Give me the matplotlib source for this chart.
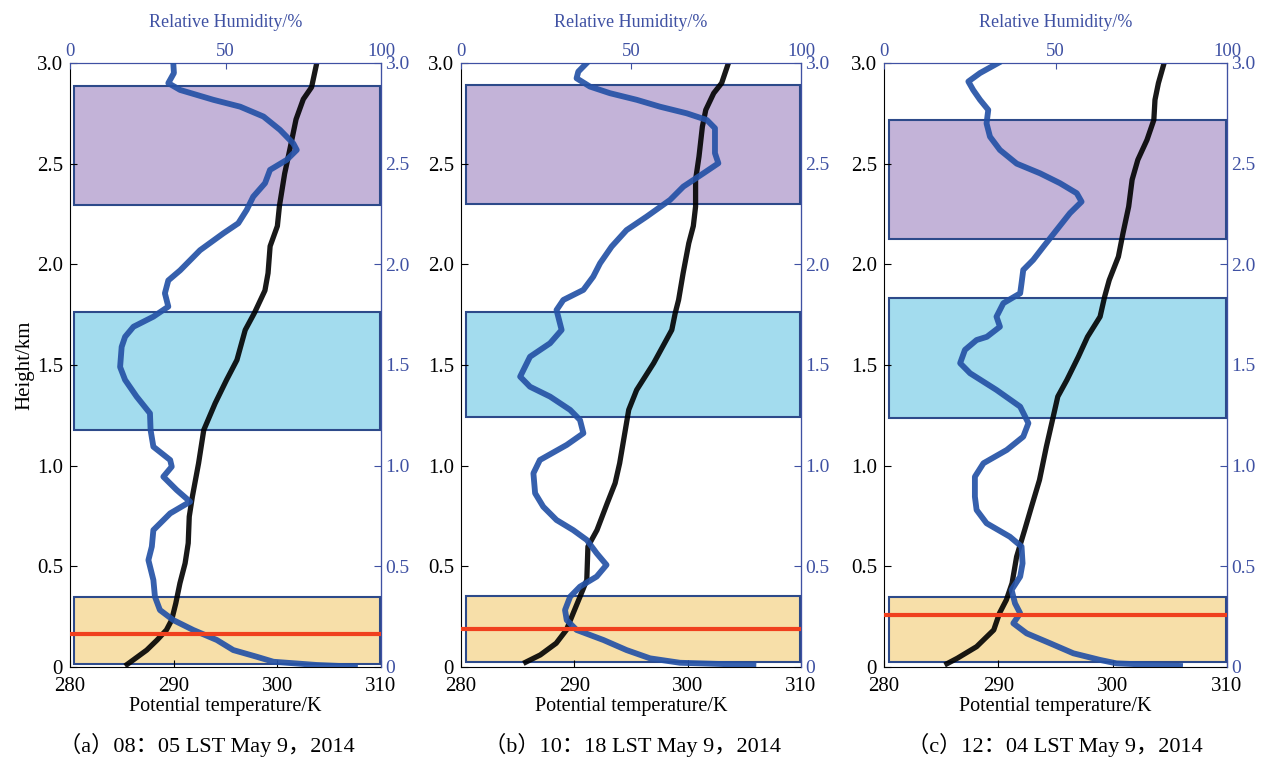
import matplotlib
matplotlib.use("Agg")
import matplotlib.pyplot as plt
from matplotlib.patches import Rectangle
from matplotlib.ticker import FuncFormatter

plt.rcParams['font.family'] = ['Liberation Serif', 'Noto Sans CJK SC']

BLUE_AX = '#3f51a3'
BLUE_LINE = '#2552a6'
BOX_EDGE = '#2d4a8a'

# panel (a) 08:05
h_theta_a = [3.0, 2.88, 2.82, 2.72, 2.57, 2.45, 2.29, 2.19, 2.09, 1.956, 1.87, 1.76, 1.674, 1.525,
             1.426, 1.31, 1.177, 1.012, 0.846, 0.747, 0.615, 0.515, 0.416, 0.316, 0.233, 0.184,
             0.134, 0.084, 0.035, 0.005]
theta_a = [303.8, 303.3, 302.5, 301.8, 301.2, 300.7, 300.2, 300.0, 299.3, 299.1, 298.8, 297.8, 296.9,
           296.1, 295.1, 294.0, 292.9, 292.4, 291.8, 291.5, 291.4, 291.1, 290.6, 290.2, 289.8, 289.3,
           288.4, 287.4, 286.1, 285.3]
h_rh_a = [3.0, 2.95, 2.90, 2.866, 2.817, 2.783, 2.734, 2.668, 2.60, 2.568, 2.519, 2.469, 2.403, 2.336,
          2.27, 2.204, 2.154, 2.07, 1.97, 1.92, 1.856, 1.79, 1.74, 1.69, 1.64, 1.59, 1.49, 1.426,
          1.343, 1.26, 1.177, 1.094, 1.028, 0.995, 0.945, 0.879, 0.821, 0.763, 0.68, 0.598, 0.531,
          0.432, 0.349, 0.283, 0.233, 0.184, 0.134, 0.084, 0.051, 0.026, 0.01, 0.002]
rh_a = [33.2, 33.4, 31.6, 35.4, 46.1, 54.7, 62.2, 67.5, 71.8, 72.9, 69.7, 64.3, 62.7, 58.9, 56.8, 54.1,
        49.3, 41.8, 35.4, 31.6, 30.5, 31.6, 26.8, 20.4, 17.7, 16.6, 16.1, 17.7, 21.4, 25.7, 25.9, 26.8,
        32.2, 32.7, 30.0, 34.3, 38.6, 32.2, 26.8, 26.3, 25.2, 26.8, 27.3, 28.9, 33.2, 39.6, 47.2, 52.5,
        60.0, 65.4, 79.3, 91.6]

# panel (b) 10:18
h_theta_b = [3.0, 2.90, 2.85, 2.767, 2.684, 2.535, 2.42, 2.287, 2.19, 2.105, 1.956, 1.823, 1.757,
             1.674, 1.509, 1.376, 1.277, 1.177, 1.012, 0.913, 0.813, 0.68, 0.598, 0.432, 0.349, 0.267,
             0.184, 0.118, 0.06, 0.018]
theta_b = [303.6, 303.0, 302.3, 301.6, 301.3, 301.0, 300.7, 300.7, 300.5, 300.1, 299.6, 299.2, 298.9,
           298.6, 297.0, 295.5, 294.8, 294.5, 294.0, 293.6, 292.9, 292.0, 291.2, 291.1, 290.5, 289.9,
           289.3, 288.4, 287.0, 285.5]
h_rh_b = [3.0, 2.957, 2.924, 2.883, 2.85, 2.817, 2.783, 2.75, 2.717, 2.676, 2.618, 2.552, 2.502, 2.452,
          2.386, 2.32, 2.237, 2.17, 2.088, 2.005, 1.939, 1.873, 1.823, 1.773, 1.707, 1.674, 1.608,
          1.541, 1.442, 1.392, 1.343, 1.277, 1.227, 1.161, 1.103, 1.028, 0.962, 0.863, 0.796, 0.73,
          0.68, 0.631, 0.565, 0.507, 0.449, 0.399, 0.349, 0.283, 0.233, 0.184, 0.134, 0.084, 0.043,
          0.021, 0.01]
rh_b = [37.0, 34.5, 34.0, 37.9, 43.8, 51.7, 58.5, 66.4, 72.3, 74.7, 74.7, 74.7, 75.7, 71.3, 65.4, 61.5,
        54.6, 48.7, 44.3, 40.9, 38.9, 36.0, 30.1, 28.1, 29.1, 29.6, 26.2, 20.3, 17.4, 20.3, 26.2, 32.1,
        35.0, 36.0, 31.1, 23.2, 21.3, 21.8, 24.2, 28.1, 33.0, 37.0, 39.9, 42.8, 39.9, 35.0, 32.1, 30.6,
        31.1, 34.0, 41.9, 48.7, 55.6, 64.4, 86.0]

# panel (c) 12:04
h_theta_c = [3.0, 2.90, 2.817, 2.717, 2.618, 2.519, 2.42, 2.287, 2.154, 2.038, 1.922, 1.84, 1.74, 1.64,
             1.541, 1.426, 1.343, 1.243, 1.094, 0.929, 0.796, 0.68, 0.548, 0.416, 0.333, 0.267, 0.184,
             0.101, 0.043, 0.01]
theta_c = [304.5, 304.0, 303.7, 303.6, 303.0, 302.2, 301.7, 301.4, 300.9, 300.5, 299.7, 299.3, 298.9,
           297.8, 297.0, 296.0, 295.2, 294.8, 294.2, 293.6, 292.9, 292.3, 291.6, 291.2, 290.7, 290.1,
           289.6, 288.1, 286.4, 285.3]
h_rh_c = [3.0, 2.95, 2.908, 2.866, 2.817, 2.767, 2.70, 2.634, 2.568, 2.50, 2.452, 2.403, 2.353, 2.311,
          2.254, 2.17, 2.088, 2.022, 1.972, 1.906, 1.856, 1.807, 1.74, 1.69, 1.64, 1.624, 1.575,
          1.509, 1.459, 1.376, 1.293, 1.211, 1.144, 1.078, 1.012, 0.945, 0.846, 0.78, 0.714, 0.647,
          0.598, 0.515, 0.449, 0.383, 0.316, 0.267, 0.217, 0.167, 0.118, 0.068, 0.035, 0.018, 0.005]
rh_c = [33.3, 28.0, 24.6, 26.0, 28.0, 30.4, 29.9, 30.9, 33.8, 38.7, 45.5, 51.3, 56.2, 57.6, 54.2, 50.3,
        46.5, 43.5, 40.6, 40.1, 39.7, 34.8, 32.8, 33.8, 30.0, 27.0, 23.6, 22.2, 25.1, 32.8, 39.7, 42.1,
        40.6, 35.8, 29.0, 26.5, 26.5, 27.0, 29.9, 36.7, 40.1, 40.4, 39.7, 37.2, 38.2, 39.7, 37.7, 41.6,
        48.4, 55.2, 63.0, 67.8, 86.3]

# layers: (bottom, top) in km -> purple, blue, orange; red line height
layers_a = [(2.295, 2.886), (1.177, 1.762), (0.013, 0.346)]
layers_b = [(2.30, 2.891), (1.240, 1.765), (0.026, 0.353)]
layers_c = [(2.126, 2.717), (1.239, 1.835), (0.023, 0.349)]
red_h = [0.164, 0.189, 0.258]
layer_colors = ['#c3b3d8', '#a3dcee', '#f7dfa9']

captions = ['（a）08：05 LST May 9，2014', '（b）10：18 LST May 9，2014', '（c）12：04 LST May 9，2014']

panels = [
    (h_theta_a, theta_a, h_rh_a, rh_a, layers_a),
    (h_theta_b, theta_b, h_rh_b, rh_b, layers_b),
    (h_theta_c, theta_c, h_rh_c, rh_c, layers_c),
]
rects = [(0.0551, 0.1189, 0.2447, 0.7979),
         (0.3627, 0.1189, 0.2675, 0.7979),
         (0.6955, 0.1189, 0.2699, 0.7979)]
cap_x = [0.163, 0.498, 0.830]

fmt = FuncFormatter(lambda v, p: '0' if v == 0 else f'{v:.1f}')

fig = plt.figure(figsize=(12.71, 7.57), dpi=100)

for i, (ht, th, hr, rh, layers) in enumerate(panels):
    ax = fig.add_axes(rects[i])
    ax.set_xlim(280, 310)
    ax.set_ylim(0, 3)
    for (lo, hi), c in zip(layers, layer_colors):
        ax.add_patch(Rectangle((280.4, lo), 29.5, hi - lo, facecolor=c, edgecolor=BOX_EDGE,
                               linewidth=1.5, zorder=1))
    ax.plot(th, ht, color='black', linewidth=3.8, alpha=0.9, zorder=3,
            solid_joinstyle='round', solid_capstyle='butt')
    ax.set_xticks([280, 290, 300, 310])
    ax.set_yticks([0, 0.5, 1.0, 1.5, 2.0, 2.5, 3.0])
    ax.yaxis.set_major_formatter(fmt)
    ax.tick_params(direction='in', labelsize=15, length=5, pad=5)
    ax.tick_params(axis='x', pad=7)
    ax.set_xlabel('Potential temperature/K', fontsize=14.5, labelpad=1)
    if i == 0:
        ax.set_ylabel('Height/km', fontsize=15, labelpad=2)
    ax.spines['top'].set_color(BLUE_AX)
    ax.spines['right'].set_color(BLUE_AX)

    sec = ax.secondary_yaxis('right')
    sec.set_yticks([0, 0.5, 1.0, 1.5, 2.0, 2.5, 3.0])
    sec.yaxis.set_major_formatter(fmt)
    sec.tick_params(direction='in', labelsize=14, length=5, color=BLUE_AX, labelcolor=BLUE_AX, pad=3)
    sec.spines['right'].set_color(BLUE_AX)

    ax_rh = ax.twiny()
    ax_rh.set_xlim(0, 100)
    ax_rh.set_xticks([0, 50, 100])
    ax_rh.tick_params(direction='in', labelsize=13.5, length=4, color=BLUE_AX, labelcolor=BLUE_AX, pad=2)
    ax_rh.spines['top'].set_color(BLUE_AX)
    ax_rh.spines['right'].set_color(BLUE_AX)
    ax_rh.spines['left'].set_visible(False)
    ax_rh.spines['bottom'].set_visible(False)
    ax_rh.set_xlabel('Relative Humidity/%', fontsize=13, color=BLUE_AX, labelpad=12)
    ax_rh.plot(rh, hr, color=BLUE_LINE, linewidth=4.2, alpha=0.92, zorder=3,
               solid_joinstyle='round')
    ax_rh.axhline(red_h[i], color='#f0401e', linewidth=3.0, zorder=4)

    fig.text(cap_x[i], 0.016, captions[i], ha='center', va='center', fontsize=16)

fig.savefig('out.png', dpi=100)
